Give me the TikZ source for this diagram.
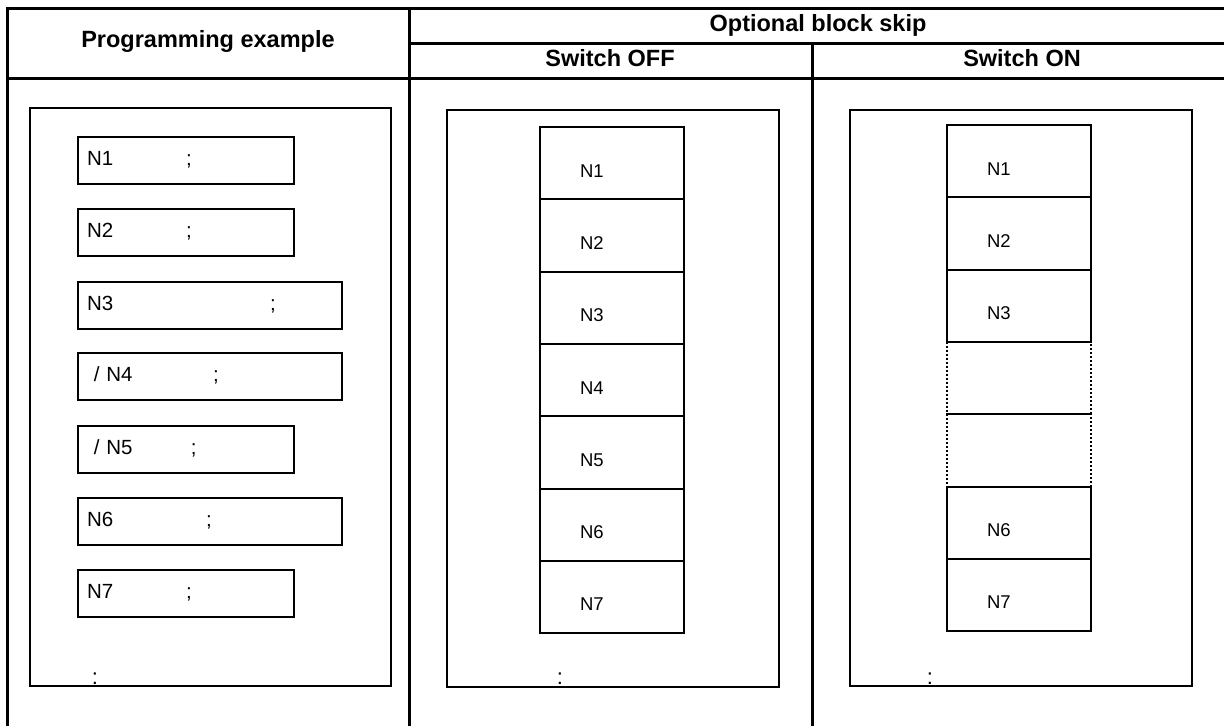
\documentclass[tikz,border=0pt]{standalone}
\usepackage{fontspec}
\setmainfont{Liberation Sans}
\usepackage{tikz}
\usetikzlibrary{positioning}

\begin{document}
\begin{tikzpicture}[x=1pt, y=-1pt,
  every node/.style={font=\fontsize{20.5}{24}\selectfont},
  head/.style={font=\fontsize{23.5}{28}\selectfont\bfseries, anchor=base, inner sep=0pt},
  grid/.style={line width=3pt},
  frame/.style={line width=2.8pt},
  prog/.style={draw, line width=2.2pt, outer sep=0pt, anchor=north west, minimum height=47pt, inner xsep=9pt, inner ysep=0pt, text width=198pt, align=left, text height=14.3pt, text depth=5.3pt},
  proglong/.style={prog, text width=246pt},
  blk/.style={draw, line width=2pt, outer sep=0pt, anchor=north west, minimum height=72.3pt, inner xsep=40pt, inner ysep=0pt, text width=64pt, align=left, text height=28pt, text depth=0pt, font=\fontsize{18.5}{22}\selectfont},
  gap/.style={blk, dotted, line width=1.5pt},
  more/.style={anchor=base, inner sep=0pt, font=\fontsize{22}{26}\selectfont}
]
  \useasboundingbox (0,0) rectangle (1224,726);

  % table
  \draw[grid] (7,726) -- (7,8) -- (1224,8);
  \draw[grid] (7,78) -- (1224,78);
  \draw[grid] (409,8) -- (409,726);
  \draw[grid] (409,43) -- (1224,43);
  \draw[grid] (812,43) -- (812,726);

  \node[head] (hprog) at (208,47.7) {Programming example};
  \node[head] (hskip) at (818,31.7) {Optional block skip};
  \node[head] (hoff)  at (610,66.7) {Switch OFF};
  \node[head] (hon)   at (1022,66.7) {Switch ON};

  % programming example
  \draw[frame] (30,108) rectangle (391,686);
  \node[prog]     (p1) at (78,137) {\makebox[99pt][l]{N1};};
  \node[prog]     (p2) at (78,209) {\makebox[99pt][l]{N2};};
  \node[proglong] (p3) at (78,282) {\makebox[183pt][l]{N3};};
  \node[proglong] (p4) at (78,353) {\makebox[126pt][l]{ / N4};};
  \node[prog]     (p5) at (78,426) {\makebox[104pt][l]{ / N5};};
  \node[proglong] (p6) at (78,498) {\makebox[119pt][l]{N6};};
  \node[prog]     (p7) at (78,570) {\makebox[99pt][l]{N7};};
  \node[more] (pmore) at (95,684) {:};

  % switch off
  \draw[frame] (447,110) rectangle (779,687);
  \node[blk] (off1) at (540,127) {N1};
  \node[blk, below=0pt of off1] (off2) {N2};
  \node[blk, below=0pt of off2] (off3) {N3};
  \node[blk, below=0pt of off3] (off4) {N4};
  \node[blk, below=0pt of off4] (off5) {N5};
  \node[blk, below=0pt of off5] (off6) {N6};
  \node[blk, below=0pt of off6] (off7) {N7};
  \node[more] (offmore) at (560,684) {:};

  % switch on
  \draw[frame] (850,110) rectangle (1192,686);
  \node[blk] (on1) at (947,125) {N1};
  \node[blk, below=0pt of on1] (on2) {N2};
  \node[blk, below=0pt of on2] (on3) {N3};
  \node[gap, below=0pt of on3] (skip4) {};
  \node[gap, below=0pt of skip4] (skip5) {};
  \node[blk, below=0pt of skip5] (on6) {N6};
  \node[blk, below=0pt of on6] (on7) {N7};
  \node[more] (onmore) at (930,684) {:};
\end{tikzpicture}
\end{document}
